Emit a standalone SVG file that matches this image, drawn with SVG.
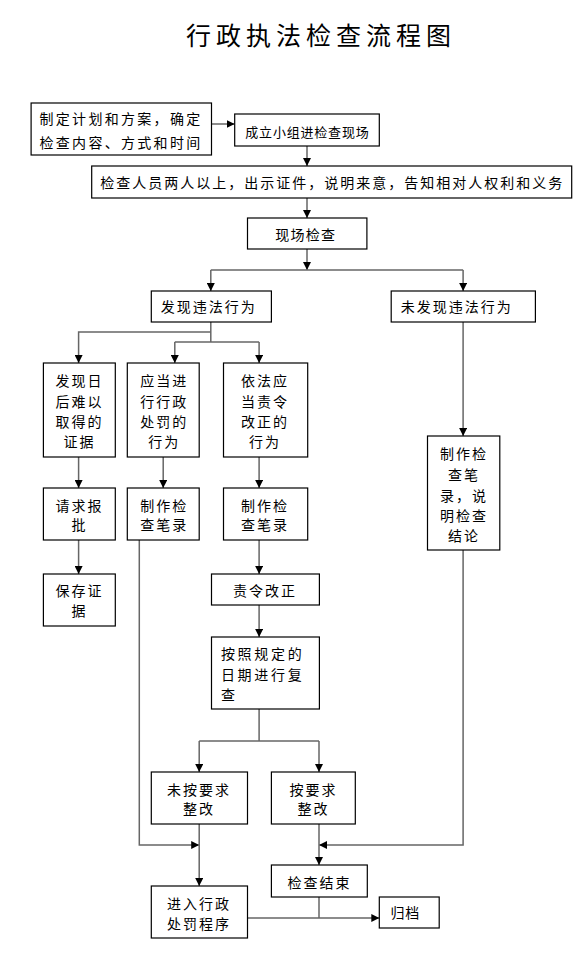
<svg xmlns="http://www.w3.org/2000/svg" width="587" height="958" viewBox="0 0 587 958">
<style>
.bg{fill:#fff}
.box{fill:#fff;stroke:#000;stroke-width:1.2}
.t{font-family:"Noto Sans CJK SC","Noto Sans CJK TC",sans-serif;font-size:14px;fill:#000;text-anchor:middle;dominant-baseline:central;letter-spacing:2px}
.l{text-anchor:start}
.title{font-family:"Noto Sans CJK SC","Noto Sans CJK TC",sans-serif;font-size:25px;fill:#000;text-anchor:middle;dominant-baseline:central;letter-spacing:5px}
.c{fill:none;stroke:#666;stroke-width:1.5}
.a{marker-end:url(#arr)}
</style>
<defs>
<marker id="arr" markerUnits="userSpaceOnUse" markerWidth="9" markerHeight="8" refX="8" refY="4" orient="auto">
<path d="M0,0 L8,4 L0,8 Z" fill="#000"/>
</marker>
</defs>
<rect class="bg" x="0" y="0" width="587" height="958"/>
<text class="title" x="321" y="34">行政执法检查流程图</text>

<g id="connectors">
<line class="c a" x1="211.5" y1="124" x2="234.7" y2="124"/>
<line class="c a" x1="307" y1="146" x2="307" y2="166"/>
<line class="c a" x1="307" y1="198" x2="307" y2="218"/>
<line class="c a" x1="307" y1="249" x2="307" y2="270"/>
<line class="c" x1="210.8" y1="270" x2="463.1" y2="270"/>
<line class="c a" x1="210.8" y1="270" x2="210.8" y2="291"/>
<line class="c a" x1="463.1" y1="270" x2="463.1" y2="291"/>
<line class="c" x1="210.8" y1="322" x2="210.8" y2="342"/>
<polyline class="c a" points="210.8,332 78.6,332 78.6,363"/>
<line class="c" x1="174.8" y1="342" x2="259.1" y2="342"/>
<line class="c a" x1="174.8" y1="342" x2="174.8" y2="363"/>
<line class="c a" x1="259.1" y1="342" x2="259.1" y2="363"/>
<line class="c a" x1="463.1" y1="322" x2="463.1" y2="436"/>
<line class="c a" x1="78.6" y1="457" x2="78.6" y2="488"/>
<line class="c a" x1="78.6" y1="540" x2="78.6" y2="574"/>
<line class="c a" x1="163.2" y1="457" x2="163.2" y2="488"/>
<polyline class="c a" points="139.3,540 139.3,845 199.2,845"/>
<line class="c a" x1="259.1" y1="457" x2="259.1" y2="488"/>
<line class="c a" x1="259.1" y1="540" x2="259.1" y2="574"/>
<line class="c a" x1="259.1" y1="605" x2="259.1" y2="637"/>
<line class="c" x1="259.1" y1="709" x2="259.1" y2="741"/>
<line class="c" x1="199.2" y1="741" x2="319" y2="741"/>
<line class="c a" x1="199.2" y1="741" x2="199.2" y2="772"/>
<line class="c a" x1="319" y1="741" x2="319" y2="772"/>
<polyline class="c a" points="463.1,550 463.1,845 319,845"/>
<line class="c a" x1="199.2" y1="824" x2="199.2" y2="886"/>
<line class="c a" x1="319" y1="824" x2="319" y2="865"/>
<line class="c" x1="319" y1="897" x2="319" y2="918"/>
<line class="c a" x1="247.5" y1="918" x2="379.3" y2="918"/>
</g>

<g id="n1"><rect class="box" x="31.1" y="103" width="180.4" height="52"/>
<text class="t" x="121" y="118" style="letter-spacing:2.3px">制定计划和方案，确定</text>
<text class="t" x="121" y="142" style="letter-spacing:2.3px">检查内容、方式和时间</text></g>

<g id="n2"><rect class="box" x="234.7" y="114" width="144.6" height="32"/>
<text class="t" x="307.4" y="131" style="font-size:13px;letter-spacing:0.8px">成立小组进检查现场</text></g>

<g id="n3"><rect class="box" x="91.7" y="166" width="480" height="32"/>
<text class="t" x="332.3" y="182">检查人员两人以上，出示证件，说明来意，告知相对人权利和义务</text></g>

<g id="n4"><rect class="box" x="247.5" y="218" width="119.4" height="31"/>
<text class="t" x="305.8" y="234" style="letter-spacing:1.3px">现场检查</text></g>

<g id="n5"><rect class="box" x="151.3" y="291" width="120.1" height="31"/>
<text class="t" x="208.8" y="306">发现违法行为</text></g>

<g id="n6"><rect class="box" x="391.2" y="291" width="144.2" height="31"/>
<text class="t" x="456.8" y="306">未发现违法行为</text></g>

<g id="n7"><rect class="box" x="43.4" y="363" width="71.9" height="94"/>
<text class="t" x="79.6" y="380">发现日</text>
<text class="t" x="79.6" y="401">后难以</text>
<text class="t" x="79.6" y="421">取得的</text>
<text class="t" x="79.6" y="441">证据</text></g>

<g id="n8"><rect class="box" x="127.3" y="363" width="71.9" height="94"/>
<text class="t" x="164.2" y="380">应当进</text>
<text class="t" x="164.2" y="401">行行政</text>
<text class="t" x="164.2" y="421">处罚的</text>
<text class="t" x="164.2" y="441">行为</text></g>

<g id="n9"><rect class="box" x="223.5" y="363" width="84.2" height="94"/>
<text class="t" x="265" y="380">依法应</text>
<text class="t" x="265" y="401">当责令</text>
<text class="t" x="265" y="421">改正的</text>
<text class="t" x="265" y="441">行为</text></g>

<g id="n10"><rect class="box" x="427.5" y="436" width="72.3" height="114"/>
<text class="t" x="464" y="453">制作检</text>
<text class="t" x="464" y="474">查笔</text>
<text class="t" x="464" y="495">录，说</text>
<text class="t" x="464" y="515">明检查</text>
<text class="t" x="464" y="535">结论</text></g>

<g id="n11"><rect class="box" x="43.4" y="488" width="71.9" height="52"/>
<text class="t" x="79.6" y="505">请求报</text>
<text class="t" x="79.6" y="524">批</text></g>

<g id="n12"><rect class="box" x="43.4" y="574" width="71.9" height="52"/>
<text class="t" x="79.6" y="590">保存证</text>
<text class="t" x="79.6" y="610">据</text></g>

<g id="n13"><rect class="box" x="127.3" y="488" width="71.9" height="52"/>
<text class="t" x="164.2" y="505">制作检</text>
<text class="t" x="164.2" y="524">查笔录</text></g>

<g id="n14"><rect class="box" x="223.5" y="488" width="84.2" height="52"/>
<text class="t" x="265" y="505">制作检</text>
<text class="t" x="265" y="524">查笔录</text></g>

<g id="n15"><rect class="box" x="211.5" y="574" width="107.9" height="31"/>
<text class="t" x="265" y="590">责令改正</text></g>

<g id="n16"><rect class="box" x="211.5" y="637" width="107.9" height="72"/>
<text class="t l" x="220.9" y="653" style="letter-spacing:2.7px">按照规定的</text>
<text class="t l" x="220.9" y="674" style="letter-spacing:2.7px">日期进行复</text>
<text class="t l" x="220.9" y="694" style="letter-spacing:2.7px">查</text></g>

<g id="n17"><rect class="box" x="151.3" y="772" width="96.2" height="52"/>
<text class="t" x="199" y="789">未按要求</text>
<text class="t" x="199" y="808">整改</text></g>

<g id="n18"><rect class="box" x="271.4" y="772" width="83.9" height="52"/>
<text class="t" x="313.4" y="789">按要求</text>
<text class="t" x="313.4" y="808">整改</text></g>

<g id="n19"><rect class="box" x="151.3" y="886" width="96.2" height="52"/>
<text class="t" x="199" y="903">进入行政</text>
<text class="t" x="199" y="923">处罚程序</text></g>

<g id="n20"><rect class="box" x="271.4" y="865" width="95.9" height="32"/>
<text class="t" x="319.6" y="882">检查结束</text></g>

<g id="n21"><rect class="box" x="379.3" y="897" width="59.9" height="31"/>
<text class="t l" x="390.5" y="912" style="letter-spacing:0.8px">归档</text></g>
</svg>
